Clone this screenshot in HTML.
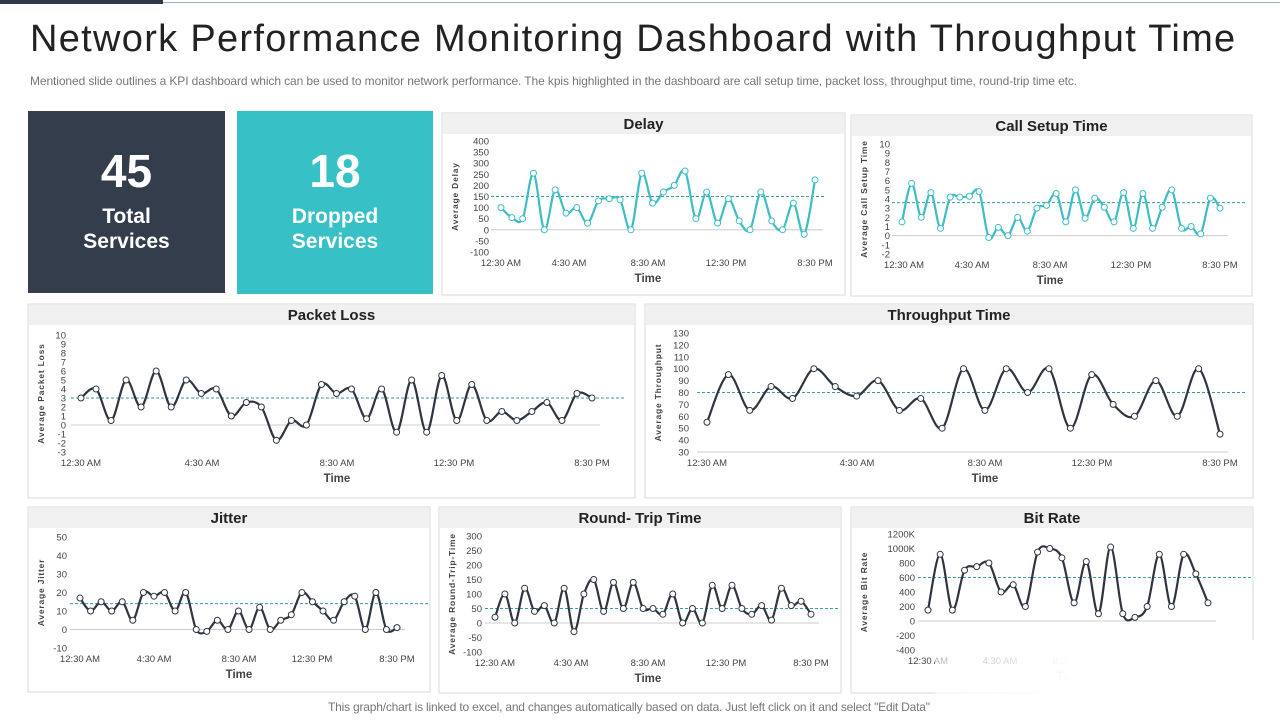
<!DOCTYPE html>
<html><head><meta charset="utf-8">
<style>
body{margin:0;width:1280px;height:720px;overflow:hidden;background:#fff;font-family:"Liberation Sans",sans-serif;position:relative}
.abs{position:absolute}
.card{position:absolute;color:#fff;text-align:center;font-weight:bold}
</style></head><body>
<div class="abs" style="left:0;top:0;width:163px;height:4px;background:#2f3a4a"></div>
<div class="abs" style="left:163px;top:2px;width:1117px;height:1px;background:#9fb3c0"></div>
<div class="abs" style="left:30px;top:18px;font-size:38px;color:#222;white-space:nowrap;letter-spacing:1.3px">Network Performance Monitoring Dashboard with Throughput Time</div>
<div class="abs" style="left:30px;top:74px;font-size:12px;color:#777;white-space:nowrap;letter-spacing:-0.1px">Mentioned slide outlines a KPI dashboard which can be used to monitor network performance. The kpis highlighted in the dashboard are call setup time, packet loss, throughput time, round-trip time etc.</div>
<div class="card" style="left:28px;top:111px;width:197px;height:182px;background:#333d4c">
<div style="font-size:46px;margin-top:33px">45</div>
<div style="font-size:21px;line-height:25px;margin-top:6px">Total<br>Services</div></div>
<div class="card" style="left:237px;top:111px;width:196px;height:183px;background:#37c0c6">
<div style="font-size:46px;margin-top:33px">18</div>
<div style="font-size:21px;line-height:25px;margin-top:6px">Dropped<br>Services</div></div>
<svg id="svg" class="abs" style="left:0;top:0" width="1280" height="720"></svg>
<div class="abs" style="left:935px;top:640px;width:345px;height:80px;background:linear-gradient(90deg,rgba(255,255,255,0.6),#fff 40%)"></div>
<div class="abs" style="left:328px;top:700px;font-size:12px;color:#777;white-space:nowrap;letter-spacing:-0.2px">This graph/chart is linked to excel, and changes automatically based on data. Just left click on it and select "Edit Data"</div>
<script>
const xLabels=["12:30 AM","4:30 AM","8:30 AM","12:30 PM","8:30 PM"];
const delayValues=[100,55,50,255,0,180,75,100,30,130,140,135,0,255,120,170,200,265,50,170,30,140,40,0,170,40,0,120,-20,225];
const delayTicks=[400,350,300,250,200,150,100,50,0,-50,-100];
const callValues=[1.5,5.7,2,4.7,0.8,4.2,4.2,4.3,4.8,-0.2,0.9,0,2,0.5,3,3.3,4.6,1.5,5,1.9,4.1,3.1,1.5,4.7,0.8,4.6,0.8,3.1,5,0.8,1,0.2,4.1,3];
const callTicks=[10,9,8,7,6,5,4,3,2,1,0,-1,-2];
const lossValues=[3,4,0.5,5,2,6,2,5,3.5,4,1,2.5,2,-1.7,0.5,0,4.5,3.5,4,0.7,4,-0.8,5,-0.8,5.5,0.5,4.5,0.5,1.5,0.5,1.5,2.5,0.5,3.5,3];
const lossTicks=[10,9,8,7,6,5,4,3,2,1,0,-1,-2,-3];
const tputValues=[55,95,65,85,75,100,85,77,90,65,75,50,100,65,100,80,100,50,95,70,60,90,60,100,45];
const tputTicks=[130,120,110,100,90,80,70,60,50,40,30];
const jitterValues=[17,10,15,10,15,5,20,18,20,10,20,0,-1,5,0,10,0,12,0,5,8,20,15,10,5,15,18,0,20,0,1];
const jitterTicks=[50,40,30,20,10,0,-10];
const rttValues=[20,100,0,120,40,60,0,120,-30,100,150,40,140,50,140,50,50,30,100,0,50,0,130,50,130,50,30,60,10,120,60,75,30];
const rttTicks=[300,250,200,150,100,50,0,-50,-100];
const bitValues=[150,920,150,700,750,800,400,500,200,950,1000,870,250,820,100,1020,100,50,200,920,200,920,650,250];
const bitTicks=[1200,1000,800,600,400,200,0,-200,-400];
const bitTickLabels=["1200K","1000K","800","600","400","200","0","-200","-400"];
const averages={delay:150,call:3.6,loss:3,tput:80,jitter:14,rtt:50,bit:600};

const NS="http://www.w3.org/2000/svg";const svg=document.getElementById('svg');
function mk(t,a,p){const e=document.createElementNS(NS,t);for(const k in a)e.setAttribute(k,a[k]);(p||svg).appendChild(e);return e;}
function smooth(pts){let d="M"+pts[0][0]+","+pts[0][1];for(let i=0;i<pts.length-1;i++){const p0=pts[Math.max(0,i-1)],p1=pts[i],p2=pts[i+1],p3=pts[Math.min(pts.length-1,i+2)];
const c1=[p1[0]+(p2[0]-p0[0])/6,p1[1]+(p2[1]-p0[1])/6],c2=[p2[0]-(p3[0]-p1[0])/6,p2[1]-(p3[1]-p1[1])/6];d+=" C"+c1+" "+c2+" "+p2;}return d;}
function chart(o){
 const g=mk('g',{});
 
 
 mk('rect',{x:o.px,y:o.py,width:o.pw,height:o.ph,fill:'#fff',stroke:'#d9d9d9'},g);
 mk('rect',{x:o.px+1,y:o.py+1,width:o.pw-2,height:20,fill:'#f0f0f0'},g);
 const t=mk('text',{x:o.px+o.pw/2,y:o.py+16,'text-anchor':'middle','font-size':15,'font-weight':'bold',fill:'#222'},g);t.textContent=o.title;
 
 
 const ticks=o.ticks,tmax=ticks[0],tmin=ticks[ticks.length-1];
 const y=v=>o.yTop+(tmax-v)/(tmax-tmin)*(o.yBot-o.yTop);
 const n=o.values.length;const x=i=>o.x0+i*(o.x1-o.x0)/(n-1);
 ticks.forEach((tv,i)=>{const tt=mk('text',{x:o.tickX,y:y(tv)+3.5,'text-anchor':'end','font-size':9.5,fill:'#444'},g);tt.textContent=o.tickLabels?o.tickLabels[i]:tv;
  
  });
 const base=Math.max(0,tmin);
 const zl=mk('line',{x1:o.x0-10,x2:o.x1+8,y1:y(base),y2:y(base),stroke:'#ccc'},g);
 
 
 o.labelX.forEach((lx,i)=>{const tt=mk('text',{x:lx,y:o.yBot+14,'text-anchor':'middle','font-size':9.5,fill:'#444'},g);tt.textContent=xLabels[i];
  
  });
 const xt=mk('text',{x:o.labelX[2],y:o.yBot+30,'text-anchor':'middle','font-size':11.5,'font-weight':'bold',fill:'#444'},g);xt.textContent='Time';
 
 
 const ym=(o.yTop+o.yBot)/2;const yt=mk('text',{x:o.px+16,y:ym,'text-anchor':'middle','font-size':8.5,'font-weight':'bold',fill:'#444','letter-spacing':'0.8',transform:`rotate(-90 ${o.px+16} ${ym})`},g);yt.textContent=o.yTitle;
 
 
 const al=mk('line',{x1:o.x0-10,x2:o.px+o.pw-(o.avgExt||25),y1:y(o.avg),y2:y(o.avg),stroke:'#3a9aa5','stroke-dasharray':'3,2','stroke-width':1},g);
 
 
 const pts=o.values.map((v,i)=>[x(i),y(v)]);
 const p=mk('path',{d:smooth(pts),fill:'none',stroke:o.color,'stroke-width':2.2},g);
 
 
 pts.forEach(pt=>{const c=mk('circle',{cx:pt[0],cy:pt[1],r:3,fill:'#fff',stroke:o.color,'stroke-width':1},g);
  
  });
}
const teal='#3dbdc4',dark='#2f3540';
chart({name:'delay',title:'Delay',px:442,py:113,pw:403,ph:182,values:delayValues,ticks:delayTicks,yTop:141,yBot:252,x0:501,x1:815,tickX:489,labelX:[501,569,648,726,815],yTitle:'Average Delay',avg:averages.delay,color:teal,avgExt:20});
chart({name:'call-setup',title:'Call Setup Time',px:851,py:115,pw:401,ph:181,values:callValues,ticks:callTicks,yTop:144,yBot:254,x0:902,x1:1220,tickX:890,labelX:[904,972,1050,1131,1220],yTitle:'Average Call Setup Time',avg:averages.call,color:teal,avgExt:5});
chart({name:'packet-loss',title:'Packet Loss',px:28,py:304,pw:607,ph:194,values:lossValues,ticks:lossTicks,yTop:335,yBot:452,x0:81,x1:592,tickX:66,labelX:[81,202,337,454,592],yTitle:'Average Packet Loss',avg:averages.loss,color:dark,avgExt:10});
chart({name:'throughput',title:'Throughput Time',px:645,py:304,pw:608,ph:194,values:tputValues,ticks:tputTicks,yTop:333,yBot:452,x0:707,x1:1220,tickX:689,labelX:[707,857,985,1092,1220],yTitle:'Average Throughput',avg:averages.tput,color:dark,avgExt:8});
chart({name:'jitter',title:'Jitter',px:28,py:507,pw:402,ph:185,values:jitterValues,ticks:jitterTicks,yTop:537,yBot:648,x0:80,x1:397,tickX:67,labelX:[80,154,239,312,397],yTitle:'Average Jitter',avg:averages.jitter,color:dark,avgExt:2});
chart({name:'round-trip',title:'Round- Trip Time',px:439,py:507,pw:402,ph:186,values:rttValues,ticks:rttTicks,yTop:536,yBot:652,x0:495,x1:811,tickX:482,labelX:[495,571,648,726,811],yTitle:'Average Round-Trip-Time',avg:averages.rtt,color:dark,avgExt:2});
chart({name:'bit-rate',title:'Bit Rate',px:851,py:507,pw:402,ph:186,values:bitValues,ticks:bitTicks,tickLabels:bitTickLabels,yTop:534,yBot:650,x0:928,x1:1208,tickX:915,labelX:[928,1000,1070,1140,1208],yTitle:'Average Bit Rate',avg:averages.bit,color:dark,avgExt:2});
</script>
</body></html>
